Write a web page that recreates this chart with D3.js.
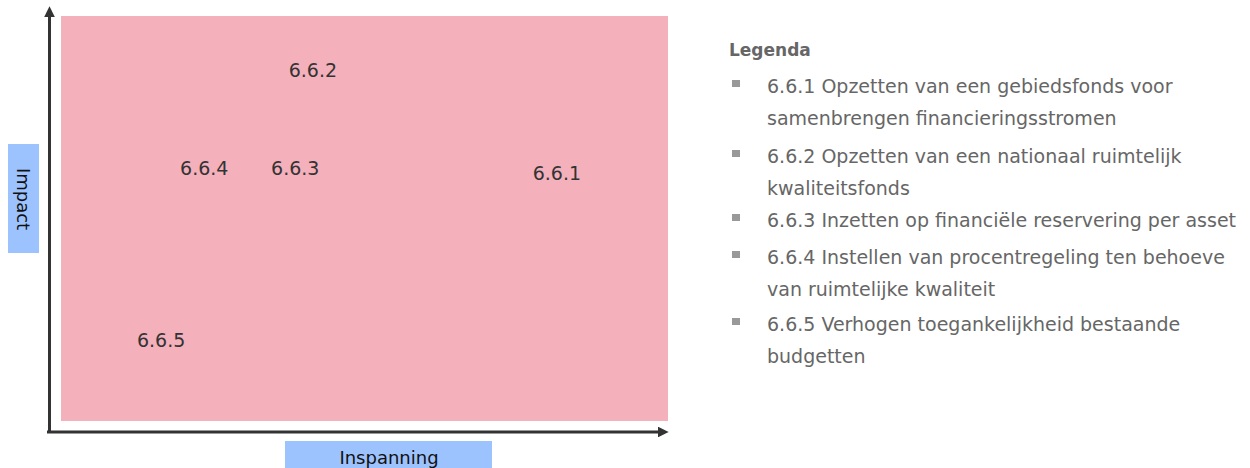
<!DOCTYPE html>
<html>
<head>
<meta charset="utf-8">
<script src="https://cdn.jsdelivr.net/npm/d3@7"></script>
<style>
  body { margin: 0; background: #fff; }
  svg { display: block; }
</style>
</head>
<body>
<div id="chart"></div>
<script>
// data
const codes = ['6.6.1', '6.6.2', '6.6.3', '6.6.4', '6.6.5'];
const inspanning = [8.17, 4.15, 3.86, 2.36, 1.65];
const impact = [6.12, 8.67, 6.25, 6.25, 2.0];
const legendItems = [
  ['6.6.1 Opzetten van een gebiedsfonds voor', 'samenbrengen financieringsstromen'],
  ['6.6.2 Opzetten van een nationaal ruimtelijk', 'kwaliteitsfonds'],
  ['6.6.3 Inzetten op financiële reservering per asset'],
  ['6.6.4 Instellen van procentregeling ten behoeve', 'van ruimtelijke kwaliteit'],
  ['6.6.5 Verhogen toegankelijkheid bestaande', 'budgetten']
];

const width = 1250, height = 468;
const margin = {top: 16, right: 582, bottom: 47, left: 61};

const svg = d3.select('#chart')
  .append('svg')
  .attr('width', width)
  .attr('height', height);

const x = d3.scaleLinear()
  .domain([0, 10])
  .range([margin.left, width - margin.right]);

const y = d3.scaleLinear()
  .domain([0, 10])
  .range([height - margin.bottom, margin.top]);

// pink background
svg.append('rect')
  .attr('x', x(0))
  .attr('y', y(10))
  .attr('width', x(10) - x(0))
  .attr('height', y(0) - y(10))
  .attr('fill', '#f4b0bb');

// arrow marker
svg.append('defs').append('marker')
  .attr('id', 'arrow')
  .attr('viewBox', '0 0 10 10')
  .attr('refX', 2)
  .attr('refY', 5)
  .attr('markerWidth', 3.6)
  .attr('markerHeight', 3.6)
  .attr('markerUnits', 'strokeWidth')
  .attr('orient', 'auto')
  .append('path')
  .attr('d', 'M0,0 L10,5 L0,10 Z')
  .attr('fill', '#333');

// axes (arrows)
svg.append('line')
  .attr('x1', 49.5).attr('y1', 433)
  .attr('x2', 49.5).attr('y2', 15)
  .attr('stroke', '#333')
  .attr('stroke-width', 3)
  .attr('marker-end', 'url(#arrow)');

svg.append('line')
  .attr('x1', 47).attr('y1', 432)
  .attr('x2', 660).attr('y2', 432)
  .attr('stroke', '#333')
  .attr('stroke-width', 3)
  .attr('marker-end', 'url(#arrow)');

// axis titles
svg.append('rect')
  .attr('x', 285).attr('y', 441)
  .attr('width', 207).attr('height', 30)
  .attr('fill', '#9dc3ff');
svg.append('text')
  .attr('x', 389).attr('y', 464)
  .attr('text-anchor', 'middle')
  .style('font-family', 'DejaVu Sans')
  .style('font-size', '18px')
  .attr('fill', '#111')
  .text('Inspanning');

svg.append('rect')
  .attr('x', 8).attr('y', 144)
  .attr('width', 31).attr('height', 109)
  .attr('fill', '#9dc3ff');
svg.append('text')
  .attr('transform', 'translate(17,199) rotate(90)')
  .attr('text-anchor', 'middle')
  .style('font-family', 'DejaVu Sans')
  .style('font-size', '18px')
  .attr('fill', '#111')
  .text('Impact');

// point labels
svg.append('g')
  .selectAll('text')
  .data(codes)
  .join('text')
  .attr('x', (d, i) => x(inspanning[i]))
  .attr('y', (d, i) => y(impact[i]))
  .attr('dy', '0.35em')
  .attr('text-anchor', 'middle')
  .style('font-family', 'DejaVu Sans')
  .style('font-size', '19px')
  .attr('fill', '#333')
  .text(d => d);

// legend
const legend = svg.append('g');
legend.append('text')
  .attr('x', 729).attr('y', 56)
  .style('font-family', 'DejaVu Sans')
  .style('font-size', '17px')
  .style('font-weight', 'bold')
  .attr('fill', '#666')
  .text('Legenda');

const itemY = [86, 156, 220, 257, 324];
const lineGap = 32;
legendItems.forEach((lines, i) => {
  legend.append('rect')
    .attr('x', 732).attr('y', itemY[i] - 6)
    .attr('width', 8).attr('height', 7)
    .attr('fill', '#999');
  lines.forEach((t, j) => {
    legend.append('text')
      .attr('x', 767)
      .attr('y', itemY[i] + j * lineGap)
      .attr('dy', '0.35em')
      .style('font-family', 'DejaVu Sans')
      .style('font-size', '19px')
      .attr('fill', '#666')
      .text(t);
  });
});
</script>
</body>
</html>
